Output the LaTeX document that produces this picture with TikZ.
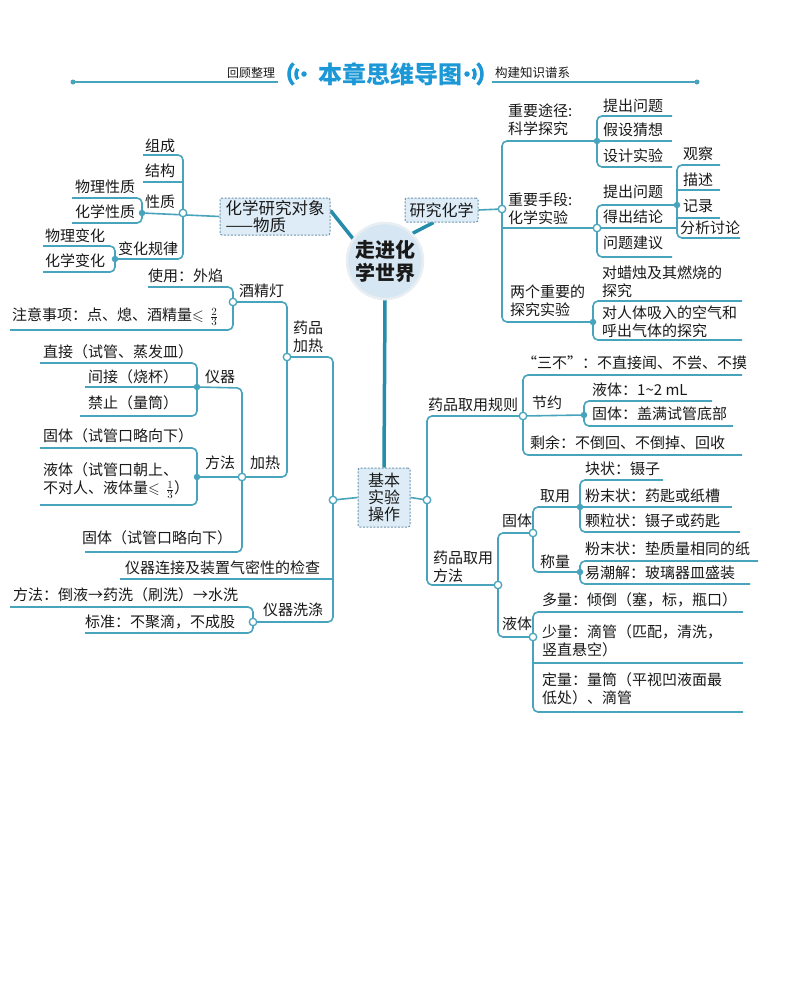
\documentclass[tikz,border=0pt]{standalone}
\usepackage{amsmath,amssymb}
\usepackage{fontspec}
\setmainfont{Noto Sans CJK SC}
\pgfdeclarelayer{bg}
\pgfsetlayers{bg,main}
\definecolor{lc}{RGB}{72,164,188}
\definecolor{tc}{RGB}{38,140,172}
\definecolor{tb}{RGB}{28,152,214}
\definecolor{boxf}{RGB}{221,236,246}
\definecolor{boxb}{RGB}{110,150,175}
\definecolor{cf}{RGB}{214,231,243}
\definecolor{cr}{RGB}{232,238,242}
\definecolor{tx}{RGB}{25,25,25}
\newcommand{\fr}[2]{$\leqslant\mkern3mu\tfrac{#1}{#2}$}
\tikzset{
  br/.style={draw=lc, line width=1.6pt, rounded corners=5pt},
  hl/.style={draw=lc, line width=1.6pt},
  trunk/.style={draw=tc, line width=3.5pt},
  dotf/.style={circle, fill=lc, inner sep=0pt, minimum size=6.5pt},
  doto/.style={circle, draw=lc, fill=white, line width=1.3pt, inner sep=0pt, minimum size=7.5pt},
  txt/.style={anchor=west, inner sep=0pt, align=left, text=tx, font=\fontsize{15}{18}\selectfont},
  boxn/.style={draw=boxb, fill=boxf, line width=1pt, dash pattern=on 2pt off 1.5pt, rounded corners=2pt, inner sep=0pt, text=tx},
  wave/.style={draw=tb, line width=3.5pt},
}
\begin{document}
\begin{tikzpicture}[x=1pt,y=-1pt]
\begin{pgfonlayer}{bg}
\fill[white] (0,0) rectangle (800,1002);
\end{pgfonlayer}
\useasboundingbox (0,0) rectangle (800,1002);

% ---------- header ----------
\node[circle, fill=lc, inner sep=0pt, minimum size=5pt] (hdl) at (73,82) {};
\node[circle, fill=lc, inner sep=0pt, minimum size=5pt] (hdr) at (697,82) {};
\coordinate (hl1) at (278,82);
\coordinate (hr1) at (492,82);
\node[anchor=west, inner sep=0pt, text=tx, font=\fontsize{12}{12}\selectfont] (h1) at (227,73) {回顾整理};
\node[anchor=west, inner sep=0pt, text=tx, font=\fontsize{12.5}{12.5}\selectfont] (h2) at (495,73) {构建知识谱系};
\node[inner sep=0pt, text=tb, font=\fontsize{24}{24}\selectfont\bfseries] (title) at (390,74) {本章思维导图};
\node[circle, fill=tb, inner sep=0pt, minimum size=5.5pt] (wl) at (304,74) {};
\node[circle, fill=tb, inner sep=0pt, minimum size=5.5pt] (wr) at (467,74) {};
\draw[wave] (wl.center) ++(140:8) arc[start angle=140, end angle=220, radius=8];
\draw[wave] (wl.center) ++(135:15) arc[start angle=135, end angle=225, radius=15];
\draw[wave] (wr.center) ++(40:8) arc[start angle=40, end angle=-40, radius=8];
\draw[wave] (wr.center) ++(45:15) arc[start angle=45, end angle=-45, radius=15];

% ---------- central nodes ----------
\node[circle, fill=cf, draw=cr, line width=2.5pt, minimum size=76pt, inner sep=0pt, align=center, text=tx,
      font=\fontsize{20}{23}\selectfont\bfseries] (C) at (385,261) {走进化\\学世界};
\node[boxn, minimum width=110pt, minimum height=37pt, align=left, font=\fontsize{16.5}{17.5}\selectfont] (A) at (275,216.5) {化学研究对象\\——物质};
\node[boxn, minimum width=73pt, minimum height=24pt, font=\fontsize{16}{16}\selectfont] (B) at (441.5,210) {研究化学};
\node[boxn, minimum width=52pt, minimum height=59pt, align=center, font=\fontsize{16}{17}\selectfont] (D) at (384,497.5) {基本\\实验\\操作};

% ---------- junctions ----------
\node[doto] (jObj) at (183,213) {};
\node[dotf] (jXz) at (142,213) {};
\node[dotf] (jBh) at (115,259) {};

\node[doto] (jL) at (333,500) {};
\node[doto] (jYj) at (287,357) {};
\node[doto] (jJjd) at (233,302) {};
\node[doto] (jJr) at (242,477) {};
\node[dotf] (jYq) at (197,387) {};
\node[dotf] (jFf) at (197,477) {};
\node[doto] (jXd) at (253,622) {};

\node[doto] (jYjR) at (502,209) {};
\node[dotf] (jTj) at (597,141) {};
\node[doto] (jSd) at (597,228) {};
\node[dotf] (jTc) at (677,205) {};
\node[dotf] (jLg) at (593,322) {};

\node[doto] (jR) at (427,500) {};
\node[doto] (jGz) at (523,416) {};
\node[dotf] (jJy) at (584,415) {};
\node[doto] (jFfR) at (498,585) {};
\node[doto] (jGt) at (533,533) {};
\node[dotf] (jQy) at (580,507) {};
\node[dotf] (jCl) at (580,572) {};
\node[doto] (jYt) at (533,637) {};

% ---------- connectors ----------
\begin{pgfonlayer}{bg}
\draw[hl] (hdl.center) -- (hl1);
\draw[hl] (hr1) -- (hdr.center);
\draw[trunk] ([yshift=6pt]A.east) -- (C.145);
\draw[trunk] ([xshift=-8pt]B.south) -- (C.45);
\draw[trunk] (C.south) -- (D.north);

% top-left
\draw[br] (143,155) -- (183,155) -- (183,259) -- (jBh.center);
\draw[br] (143,182) -- (183,182);
\draw[br] (jXz.center) -- (A.west);
\draw[br] (72,198) -- (142,198) -- (142,223) -- (72,223);
\draw[br] (43,246) -- (115,246) -- (115,272) -- (43,272);

% left
\draw[br] (D.west) -- (jL.center);
\draw[br] (jYj.center) -- (333,357) -- (333,622) -- (jXd.center);
\draw[br] (120,579) -- (333,579);
\draw[br] (jJjd.center) -- (287,302) -- (287,477) -- (jJr.center);
\draw[br] (148,287) -- (233,287) -- (233,330) -- (10,330);
\draw[br] (jYq.center) -- (242,388) -- (242,552) -- (85,552);
\draw[br] (jFf.center) -- (jJr.center);
\draw[br] (40,363) -- (197,363) -- (197,416) -- (80,416);
\draw[br] (85,387) -- (jYq.center);
\draw[br] (40,448) -- (197,448) -- (197,505) -- (40,505);
\draw[br] (10,607) -- (253,607) -- (253,633) -- (85,633);

% top-right
\draw[br] (B.east) -- (jYjR.center);
\draw[br] (jTj.center) -- (502,141) -- (502,322) -- (jLg.center);
\draw[br] (502,228) -- (jSd.center);
\draw[br] (672,116) -- (597,116) -- (597,167) -- (672,167);
\draw[br] (jTj.center) -- (672,141);
\draw[br] (jTc.center) -- (597,205) -- (597,257) -- (672,257);
\draw[br] (jSd.center) -- (677,228);
\draw[br] (720,165) -- (677,165) -- (677,238) -- (740,238);
\draw[br] (677,190) -- (720,190);
\draw[br] (677,218) -- (720,218);
\draw[br] (742,301) -- (593,301) -- (593,340) -- (742,340);

% bottom-right
\draw[br] (D.east) -- (jR.center);
\draw[br] (jGz.center) -- (427,416) -- (427,585) -- (jFfR.center);
\draw[br] (742,375) -- (523,375) -- (523,455) -- (742,455);
\draw[br] (jGz.center) -- (jJy.center);
\draw[br] (712,401) -- (584,401) -- (584,426) -- (733,426);
\draw[br] (jGt.center) -- (498,533) -- (498,637) -- (jYt.center);
\draw[br] (jQy.center) -- (533,507) -- (533,572) -- (jCl.center);
\draw[br] (663,480) -- (580,480) -- (580,532) -- (740,532);
\draw[br] (jQy.center) -- (732,507);
\draw[br] (758,561) -- (580,561) -- (580,584) -- (750,584);
\draw[br] (743,612) -- (533,612) -- (533,712) -- (743,712);
\draw[br] (533,663) -- (743,663);
\end{pgfonlayer}

% ---------- texts: top-left ----------
\node[txt] (t1) at (145,146) {组成};
\node[txt] (t2) at (145,171) {结构};
\node[txt] (t3) at (145,202) {性质};
\node[txt] (t4) at (75,187) {物理性质};
\node[txt] (t5) at (75,212) {化学性质};
\node[txt] (t6) at (118,249) {变化规律};
\node[txt] (t7) at (45,236) {物理变化};
\node[txt] (t8) at (45,261) {化学变化};

% ---------- texts: left ----------
\node[txt] (l1) at (148,276) {使用：外焰};
\node[txt] (l2) at (239,291) {酒精灯};
\node[txt] (l3) at (12,317) {注意事项：点、熄、酒精量\fr{2}{3}};
\node[txt] (l4) at (293,337) {药品\\加热};
\node[txt] (l5) at (43,352) {直接（试管、蒸发皿）};
\node[txt] (l6) at (88,377) {间接（烧杯）};
\node[txt] (l7) at (88,403) {禁止（量筒）};
\node[txt] (l8) at (205,377) {仪器};
\node[txt] (l9) at (43,436) {固体（试管口略向下）};
\node[txt] (l10) at (205,463) {方法};
\node[txt] (l11) at (250,463) {加热};
\node[txt] (l12) at (43,481) {液体（试管口朝上、\\不对人、液体量\fr{1}{3}）};
\node[txt] (l13) at (82,538) {固体（试管口略向下）};
\node[txt] (l14) at (125,568) {仪器连接及装置气密性的检查};
\node[txt] (l15) at (13,595) {方法：倒液→药洗（刷洗）→水洗};
\node[txt] (l16) at (263,610) {仪器洗涤};
\node[txt] (l17) at (85,622) {标准：不聚滴，不成股};

% ---------- texts: top-right ----------
\node[txt] (r1) at (508,120) {重要途径:\\科学探究};
\node[txt] (r2) at (603,106) {提出问题};
\node[txt] (r3) at (603,130) {假设猜想};
\node[txt] (r4) at (603,156) {设计实验};
\node[txt] (r5) at (683,154) {观察};
\node[txt] (r6) at (683,180) {描述};
\node[txt] (r7) at (683,206) {记录};
\node[txt] (r8) at (680,228) {分析讨论};
\node[txt] (r9) at (508,208.5) {重要手段:\\化学实验};
\node[txt] (r10) at (603,192) {提出问题};
\node[txt] (r11) at (603,217) {得出结论};
\node[txt] (r12) at (603,243) {问题建议};
\node[txt] (r13) at (602,281.5) {对蜡烛及其燃烧的\\探究};
\node[txt] (r14) at (510,300.5) {两个重要的\\探究实验};
\node[txt] (r15) at (602,322) {对人体吸入的空气和\\呼出气体的探究};

% ---------- texts: bottom-right ----------
\node[txt] (s1) at (522,363) {“三不”：不直接闻、不尝、不摸};
\node[txt] (s2) at (428,405) {药品取用规则};
\node[txt] (s3) at (532,403) {节约};
\node[txt] (s4) at (592,390) {液体：1\textasciitilde 2 mL};
\node[txt] (s5) at (592,414) {固体：盖满试管底部};
\node[txt] (s6) at (530,443) {剩余：不倒回、不倒掉、回收};
\node[txt] (s7) at (433,567) {药品取用\\方法};
\node[txt] (s8) at (502,521) {固体};
\node[txt] (s9) at (502,624) {液体};
\node[txt] (s10) at (540,496) {取用};
\node[txt] (s11) at (540,562) {称量};
\node[txt] (s12) at (585,469) {块状：镊子};
\node[txt] (s13) at (585,496) {粉末状：药匙或纸槽};
\node[txt] (s14) at (585,521) {颗粒状：镊子或药匙};
\node[txt] (s15) at (585,549) {粉末状：垫质量相同的纸};
\node[txt] (s16) at (585,573) {易潮解：玻璃器皿盛装};
\node[txt] (s17) at (542,600) {多量：倾倒（塞，标，瓶口）};
\node[txt] (s18) at (542,641) {少量：滴管（匹配，清洗，\\竖直悬空）};
\node[txt] (s19) at (542,689) {定量：量筒（平视凹液面最\\低处）、滴管};
\end{tikzpicture}
\end{document}
